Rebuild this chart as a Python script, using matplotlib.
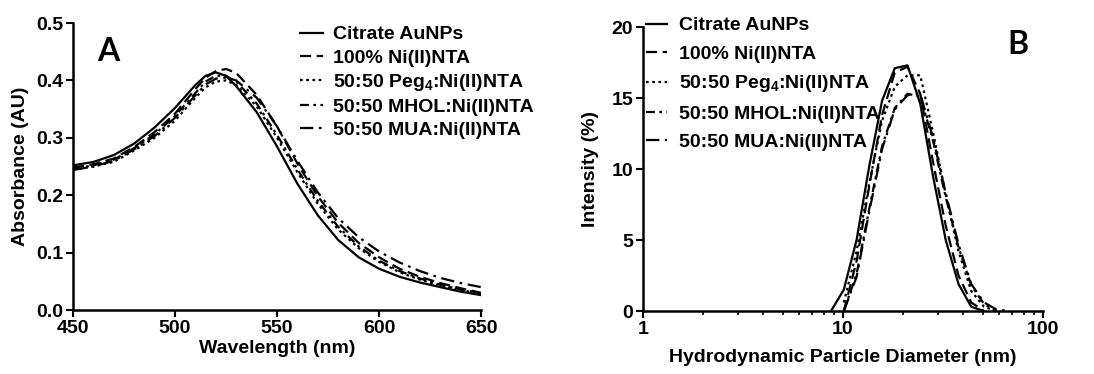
import numpy as np
import matplotlib
matplotlib.use("Agg")
import matplotlib.pyplot as plt

plt.rcParams['font.family'] = ['Liberation Sans', 'DejaVu Sans']
plt.rcParams['font.weight'] = 'bold'
plt.rcParams['mathtext.fontset'] = 'custom'
plt.rcParams['mathtext.rm'] = 'Liberation Sans:bold'
plt.rcParams['mathtext.it'] = 'Liberation Sans:bold'
plt.rcParams['mathtext.bf'] = 'Liberation Sans:bold'

# ── Datos: panel A (UV-Vis) ──────────────────────────────
wl = [450, 460, 470, 480, 490, 500, 510, 515, 520, 525, 530, 540, 550,
      560, 570, 580, 590, 600, 610, 620, 630, 640, 650]
abs_citrate = [0.252, 0.258, 0.270, 0.290, 0.318, 0.352, 0.392, 0.408, 0.414, 0.408,
               0.390, 0.345, 0.285, 0.220, 0.165, 0.122, 0.092, 0.072, 0.058,
               0.048, 0.040, 0.032, 0.026]
abs_ni100 = [0.248, 0.254, 0.264, 0.284, 0.310, 0.342, 0.385, 0.405, 0.416, 0.420,
             0.413, 0.375, 0.320, 0.255, 0.198, 0.152, 0.117, 0.092, 0.072,
             0.058, 0.047, 0.038, 0.030]
abs_peg4 = [0.244, 0.250, 0.258, 0.278, 0.300, 0.330, 0.370, 0.388, 0.398, 0.400,
            0.392, 0.355, 0.300, 0.240, 0.185, 0.140, 0.108, 0.084, 0.066,
            0.053, 0.043, 0.035, 0.028]
abs_mhol = [0.246, 0.252, 0.262, 0.282, 0.306, 0.338, 0.378, 0.398, 0.408, 0.408,
            0.398, 0.360, 0.305, 0.245, 0.190, 0.145, 0.111, 0.086, 0.068,
            0.055, 0.044, 0.036, 0.029]
abs_mua = [0.244, 0.250, 0.260, 0.280, 0.303, 0.335, 0.374, 0.393, 0.403, 0.405,
           0.400, 0.370, 0.320, 0.260, 0.205, 0.160, 0.127, 0.102, 0.083,
           0.068, 0.056, 0.047, 0.040]

# ── Datos: panel B (DLS) ─────────────────────────────────
# nan = bin sin dato dibujado
nan = np.nan
diam = [8.72, 10.1, 11.7, 13.54, 15.69, 18.17, 21.04, 24.36, 28.21,
        32.67, 37.84, 43.82, 50.75, 58.77, 68.06]
int_citrate = [0, 1.5, 5.0, 10.2, 14.8, 17.1, 17.3, 14.6, 9.5, 5.0, 1.9, 0.3, 0, nan, nan]
int_ni100 = [nan, 0, 3.5, 8.8, 13.8, 16.8, 17.2, 15.3, 10.5, 6.0, 2.5, 0.6, 0, nan, nan]
int_peg4 = [nan, 0.6, 4.2, 9.0, 13.4, 15.8, 16.6, 16.6, 12.6, 8.2, 4.2, 1.4, 0.3, 0, nan]
int_mhol = [nan, 0, 2.6, 7.2, 11.6, 14.3, 15.3, 15.1, 12.0, 8.0, 4.5, 1.8, 0.5, 0, nan]
int_mua = [nan, 0, 2.4, 7.0, 11.4, 14.2, 15.2, 15.3, 12.2, 8.3, 4.7, 1.9, 0.6, 0.1, 0]

etiquetas = ['Citrate AuNPs', '100% Ni(II)NTA', '50:50 Peg$_4$:Ni(II)NTA',
             '50:50 MHOL:Ni(II)NTA', '50:50 MUA:Ni(II)NTA']
estilos = ['-', (0, (5, 2.5)), (0, (1.2, 1.6)), (0, (4, 2, 1.2, 2)), (0, (6, 2.5, 1.2, 2.5))]

FS = 14

fig = plt.figure(figsize=(10.94, 3.74), dpi=100)
axA = fig.add_axes([0.0667, 0.171, 0.373, 0.7675])
axB = fig.add_axes([0.5877, 0.1684, 0.3656, 0.7594])


def estilo_ejes(ax):
    for s in ['top', 'right']:
        ax.spines[s].set_visible(False)
    for s in ['left', 'bottom']:
        ax.spines[s].set_linewidth(1.8)
    ax.tick_params(which='major', direction='out', length=5, width=1.5,
                   labelsize=FS, pad=2)
    ax.tick_params(which='minor', direction='out', length=3, width=1.2)
    for lab in ax.get_xticklabels() + ax.get_yticklabels():
        lab.set_fontweight('bold')


# Panel A
serieA = [abs_citrate, abs_ni100, abs_peg4, abs_mhol, abs_mua]
for y, ls, lab in zip(serieA, estilos, etiquetas):
    axA.plot(wl, y, color='black', lw=1.6, linestyle=ls, label=lab)
axA.set_xlim(450, 650)
axA.set_ylim(0, 0.5)
axA.set_xticks([450, 500, 550, 600, 650])
axA.set_yticks([0.0, 0.1, 0.2, 0.3, 0.4, 0.5])
axA.set_yticklabels(['0.0', '0.1', '0.2', '0.3', '0.4', '0.5'])
estilo_ejes(axA)
axA.set_xlabel('Wavelength (nm)', fontsize=FS, fontweight='bold', labelpad=2)
axA.set_ylabel('Absorbance (AU)', fontsize=FS, fontweight='bold', labelpad=5)
axA.legend(loc='upper left', bbox_to_anchor=(0.556, 0.99), frameon=False,
           handlelength=1.2, handletextpad=0.5, labelspacing=0.28,
           borderaxespad=0, borderpad=0, prop={'weight': 'bold', 'size': FS})
axA.text(0.086, 0.9, 'A', transform=axA.transAxes, fontsize=23,
         fontweight='bold', family='Lato', ha='center', va='center')

# Panel B
serieB = [int_citrate, int_ni100, int_peg4, int_mhol, int_mua]
for y, ls, lab in zip(serieB, estilos, etiquetas):
    axB.plot(diam, y, color='black', lw=1.6, linestyle=ls, label=lab)
axB.set_xscale('log')
axB.set_xlim(1, 100)
axB.set_ylim(0, 20)
axB.set_xticks([1, 10, 100])
axB.set_xticklabels(['1', '10', '100'])
axB.set_yticks([0, 5, 10, 15, 20])
estilo_ejes(axB)
axB.set_xlabel('Hydrodynamic Particle Diameter (nm)', fontsize=FS,
               fontweight='bold', labelpad=8)
axB.set_ylabel('Intensity (%)', fontsize=FS, fontweight='bold', labelpad=9)
axB.legend(loc='upper left', bbox_to_anchor=(0.0075, 1.036), frameon=False,
           handlelength=1.1, handletextpad=0.6, labelspacing=0.55,
           borderaxespad=0, borderpad=0, prop={'weight': 'bold', 'size': FS})
axB.text(0.938, 0.94, 'B', transform=axB.transAxes, fontsize=23,
         fontweight='bold', family='Lato', ha='center', va='center')

plt.savefig('out.png', dpi=100)
